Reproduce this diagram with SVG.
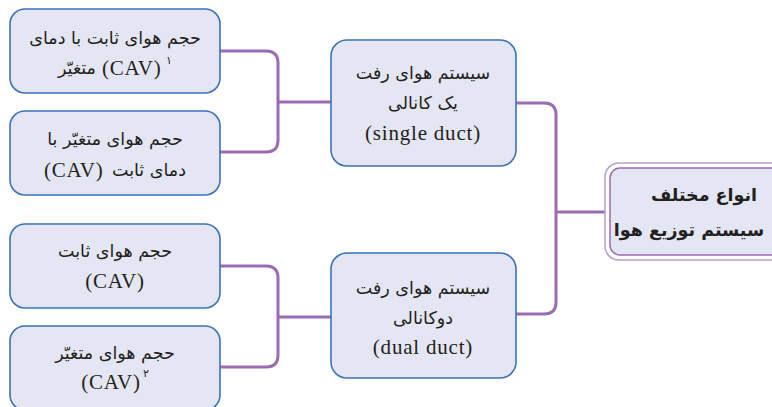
<svg xmlns="http://www.w3.org/2000/svg" width="772" height="407" viewBox="0 0 772 407">
<style>
.box{fill:#e5e6f3;stroke:#3b73b9;stroke-width:1.6}
.fa{font-family:"DejaVu Sans",sans-serif;font-size:17.5px;fill:#231f20}
.en{font-family:"Liberation Serif",serif;font-size:21px;letter-spacing:0.8px;fill:#231f20}
.sup{font-family:"DejaVu Sans",sans-serif;font-size:11px;fill:#231f20}
.con{fill:none;stroke:#9b6bb3;stroke-width:3}
.root{font-family:"DejaVu Sans",sans-serif;font-size:17.5px;font-weight:bold;fill:#231f20}
</style>
<rect width="772" height="407" fill="#ffffff"/>
<g id="connectors">
<path class="con" d="M220 51H266Q278 51 278 63V140Q278 152 266 152H220M278 102H331"/>
<path class="con" d="M220 266H266Q278 266 278 278V355Q278 367 266 367H220M278 317H331"/>
<path class="con" d="M516 103H544Q556 103 556 115V302Q556 314 544 314H516M556 212H605"/>
</g>
<g id="n1">
<rect class="box" x="10" y="9" width="210" height="84" rx="15"/>
<text class="fa" x="115" y="44" text-anchor="middle">حجم هوای ثابت با دمای</text>
<text class="fa" x="96" y="74" text-anchor="end">متغیّر</text>
<text class="en" x="102" y="75">(CAV)</text>
<text class="sup" x="166" y="64">۱</text>
</g>
<g id="n2">
<rect class="box" x="10" y="111" width="210" height="84" rx="15"/>
<text class="fa" x="115" y="145" text-anchor="middle">حجم هوای متغیّر با</text>
<text class="fa" x="186" y="176" text-anchor="end">دمای ثابت</text>
<text class="en" x="44" y="177">(CAV)</text>
</g>
<g id="n3">
<rect class="box" x="10" y="224" width="210" height="84" rx="15"/>
<text class="fa" x="115" y="257" text-anchor="middle">حجم هوای ثابت</text>
<text class="en" x="115" y="288" text-anchor="middle">(CAV)</text>
</g>
<g id="n4">
<rect class="box" x="10" y="326" width="210" height="84" rx="15"/>
<text class="fa" x="115" y="359" text-anchor="middle">حجم هوای متغیّر</text>
<text class="en" x="111" y="389" text-anchor="middle">(CAV)</text>
<text class="sup" x="143" y="377">۲</text>
</g>
<g id="m1">
<rect class="box" x="331" y="40" width="185" height="126" rx="16"/>
<text class="fa" x="423" y="79" text-anchor="middle">سیستم هوای رفت</text>
<text class="fa" x="423" y="109" text-anchor="middle">یک کانالی</text>
<text class="en" x="423" y="140" text-anchor="middle">(single duct)</text>
</g>
<g id="m2">
<rect class="box" x="331" y="253" width="185" height="125" rx="16"/>
<text class="fa" x="423" y="294" text-anchor="middle">سیستم هوای رفت</text>
<text class="fa" x="423" y="324" text-anchor="middle">دوکانالی</text>
<text class="en" x="423" y="354" text-anchor="middle">(dual duct)</text>
</g>
<g id="root">
<rect x="605" y="163" width="180" height="97" rx="14" fill="#ffffff" stroke="#b79fcf" stroke-width="1.5"/>
<rect x="610" y="168" width="175" height="87" rx="10" fill="#e5e6f3" stroke="#9b6bb3" stroke-width="1.5"/>
<text class="root" x="704" y="201" text-anchor="middle">انواع مختلف</text>
<text class="root" x="689" y="236" text-anchor="middle">سیستم توزیع هوا</text>
</g>
</svg>
